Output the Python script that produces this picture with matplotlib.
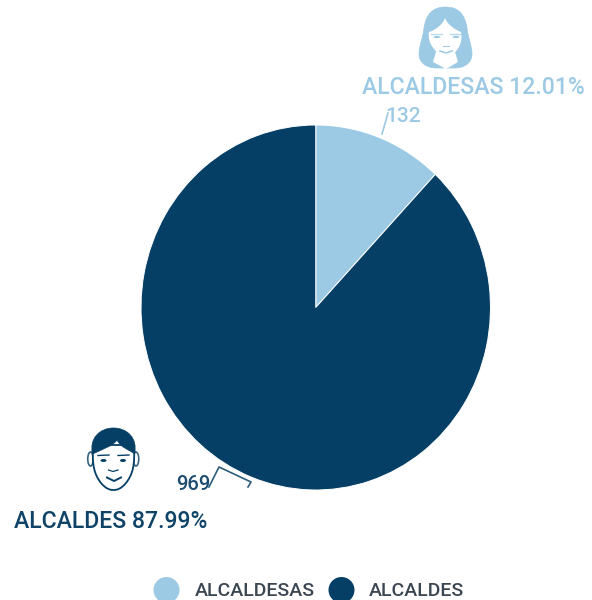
import matplotlib
matplotlib.use("Agg")
import matplotlib.pyplot as plt
from matplotlib.patches import Ellipse, Polygon, PathPatch
from matplotlib.path import Path

categories = ["ALCALDESAS", "ALCALDES"]
values = [132, 969]
shares = ["12.01%", "87.99%"]
colors = ["#9ccae4", "#063f66"]

plt.rcParams["font.family"] = ["Roboto", "DejaVu Sans"]
W, H = 592, 600
fig = plt.figure(figsize=(W / 100, H / 100), dpi=100)

cx0, cx1, cy0, cy1 = 141, 490.5, 125, 490
ax = fig.add_axes([cx0 / W, 1 - cy1 / H, (cx1 - cx0) / W, (cy1 - cy0) / H])
ax.pie(values, colors=colors, startangle=90, counterclock=False, radius=1,
       wedgeprops=dict(linewidth=0.7, edgecolor="white"))
ax.set_aspect("auto")
ax.set_xlim(-1, 1)
ax.set_ylim(-1, 1)
ax.axis("off")

ov = fig.add_axes([0, 0, 1, 1], zorder=5)
ov.set_xlim(0, W)
ov.set_ylim(H, 0)
ov.axis("off")
LIGHT, DARK = colors


def smooth(pts, **kw):
    """Closed outline through cubic Bezier segments: start, then triples of points."""
    codes = [Path.MOVETO] + [Path.CURVE4] * (len(pts) - 1)
    ov.add_patch(PathPatch(Path(pts, codes), **kw))


# Woman icon
smooth([(445.5, 7),
        (459, 7), (465, 15), (467, 28),
        (468, 38), (472, 46), (472, 54),
        (472, 63), (464, 68), (455, 68),
        (450, 68), (441, 68), (436, 68),
        (427, 68), (419, 63), (419, 54),
        (419, 46), (423, 38), (424, 28),
        (426, 15), (432, 7), (445.5, 7)],
       facecolor=LIGHT, edgecolor=LIGHT, lw=0.5)
smooth([(445, 18),
        (447, 24), (455, 30), (461, 32),
        (463, 42), (459, 52), (446, 59),
        (434, 52), (427, 42), (429, 32),
        (436, 30), (443, 24), (445, 18)],
       facecolor="white", edgecolor="none")
ov.add_patch(Polygon([(436, 52), (455, 52), (458, 62), (446, 69), (433, 62)], fc="white", ec="none"))
ov.plot([433, 438, 458], [61, 66, 66], alpha=0)
for x0, x1 in [(431, 442), (450, 461)]:
    ov.plot([x0, x1], [33.5, 33.5], color=LIGHT, lw=0.9, alpha=0.75)
for xc in (437, 456):
    ov.add_patch(Ellipse((xc, 37), 7, 2.2, fc=LIGHT, ec="none"))
ov.plot([443, 449], [46, 46], color=LIGHT, lw=0.7)
ov.plot([440, 446, 452], [51, 53, 51], color=LIGHT, lw=1.1)

# Man icon
for xc in (90.5, 136):
    ov.add_patch(Ellipse((xc, 459), 5.5, 14, fc="white", ec=DARK, lw=1.2, alpha=0.8))
smooth([(93, 445),
        (92, 465), (94, 474), (101, 483),
        (106, 489), (110, 490), (113.5, 490),
        (117, 490), (121, 489), (126, 483),
        (133, 474), (135, 465), (134, 445),
        (120, 445), (105, 445), (93, 445)],
       facecolor="white", edgecolor=DARK, lw=1.3)
smooth([(92.5, 454),
        (89, 438), (100, 428), (113.5, 428),
        (127, 428), (138, 438), (134.5, 454),
        (130, 450), (121, 448), (117, 440),
        (113, 446), (103, 449), (92.5, 454)],
       facecolor=DARK, edgecolor=DARK, lw=0.5)
for x0, x1 in [(98, 109), (118, 129)]:
    ov.plot([x0, x1], [455.5, 455], color=DARK, lw=1.0)
for xc in (103.5, 123):
    ov.add_patch(Ellipse((xc, 460.5), 6, 3, fc=DARK, ec="none"))
ov.plot([108.5, 113, 118], [470, 471.5, 470], color=DARK, lw=0.9)
ov.plot([107, 114, 121], [477.5, 481, 477.5], color=DARK, lw=1.4)

# Leader lines and labels
ov.plot([382, 388], [134, 113], color=LIGHT, lw=1.2)
ov.plot([209, 219, 251, 248], [487, 467, 482, 487], color="#2b5d7f", lw=1.2)

ov.text(403, 117, str(values[0]), color=LIGHT, fontsize=15, fontweight="medium", ha="center", va="center")
ov.text(193.5, 485, str(values[1]), color="#1d4d70", fontsize=14.5, fontweight="medium", ha="center", va="center")
ov.text(473.5, 87, f"{categories[0]} {shares[0]}", color=LIGHT, fontsize=16.6, fontweight="medium", ha="center", va="center")
ov.text(111, 521.5, f"{categories[1]} {shares[1]}", color="#0f4468", fontsize=16.6, fontweight="medium", ha="center", va="center")

# Legend
for x, c in ((166.5, LIGHT), (341.5, DARK)):
    ov.add_patch(Ellipse((x, 590), 26, 26, fc=c, ec="none"))
ov.text(195, 591, categories[0], color="#3a4651", fontsize=14, fontweight="medium", ha="left", va="center")
ov.text(369, 591, categories[1], color="#3a4651", fontsize=14, fontweight="medium", ha="left", va="center")

fig.savefig("out.png", dpi=100, facecolor="white")
